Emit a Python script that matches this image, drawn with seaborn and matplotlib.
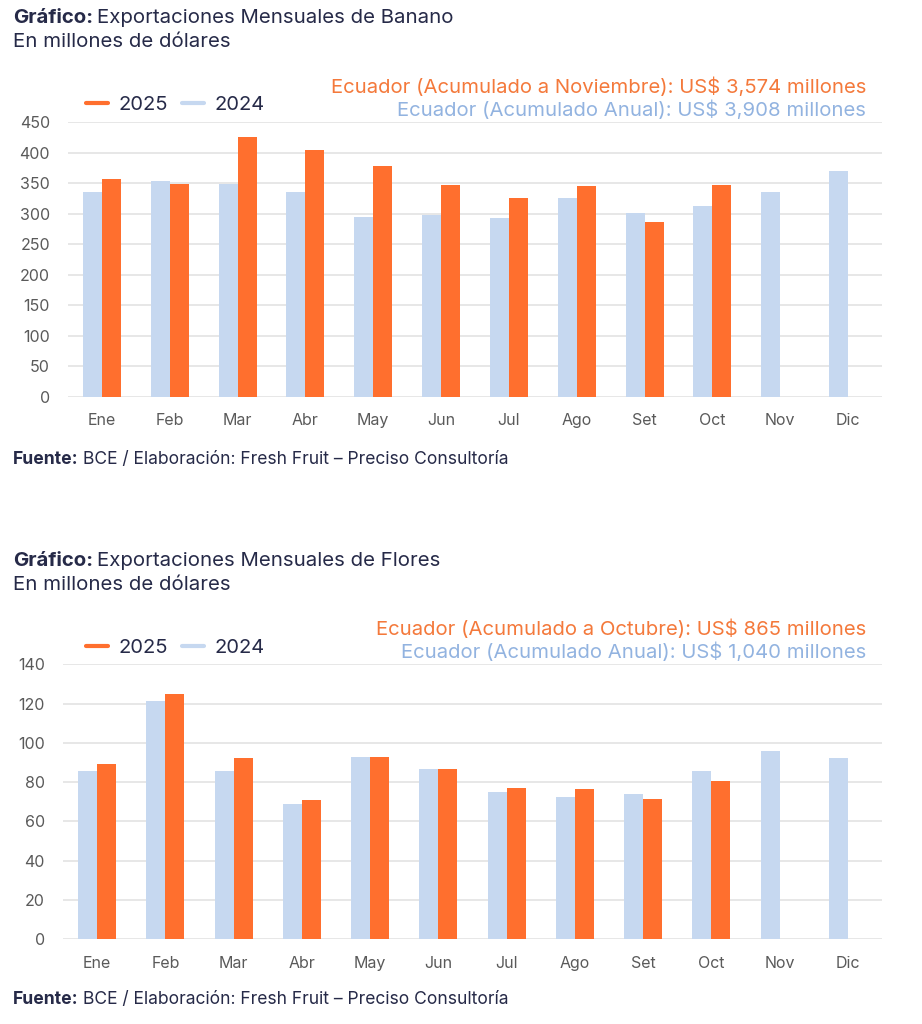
import matplotlib
matplotlib.use("Agg")
import matplotlib.pyplot as plt
from matplotlib.lines import Line2D
import seaborn as sns
import pandas as pd

meses = ["Ene", "Feb", "Mar", "Abr", "May", "Jun", "Jul", "Ago", "Set", "Oct", "Nov", "Dic"]

banano_2024 = [335.5, 353.5, 348, 335.5, 294.6, 297, 292, 325.7, 301, 311.6, 335, 369]
banano_2025 = [357, 348, 425.5, 404, 378, 346, 325.7, 345, 287, 347.6, None, None]

flores_2024 = [85.6, 121.5, 85.6, 68.8, 92.9, 86.8, 74.8, 72.2, 73.9, 85.6, 95.8, 92.3]
flores_2025 = [89, 125, 92.1, 70.7, 92.6, 86.6, 77.1, 76.5, 71.2, 80.4, None, None]

banano_ticks = [0, 50, 100, 150, 200, 250, 300, 350, 400, 450]
flores_ticks = [0, 20, 40, 60, 80, 100, 120, 140]

ORANGE = "#FF6F2E"
BLUE = "#C6D8F0"
NAVY = "#262A48"
GRAY = "#5A5A5A"
ANN_ORANGE = "#F4793B"
ANN_BLUE = "#92B3E0"

sns.set_theme(style="white")
FONT = ["Inter", "DejaVu Sans"]
plt.rcParams["font.family"] = FONT

W, H = 922, 1024
fig = plt.figure(figsize=(W / 100, H / 100), dpi=100)
fig.patch.set_facecolor("white")

TITLE_SIZE = 14.7
ANN_SIZE = 14.6
SRC_SIZE = 12.6


def fx(x):
    return x / W


def fy(y):
    return 1 - y / H


def long_df(v24, v25):
    rows = []
    for m, a, b in zip(meses, v24, v25):
        rows.append({"Mes": m, "Año": "2024", "Valor": a})
        rows.append({"Mes": m, "Año": "2025", "Valor": b})
    return pd.DataFrame(rows)


def rich_text(y, bold, rest, size):
    r = fig.canvas.get_renderer()
    t = fig.text(fx(13), fy(y), bold, fontsize=size, fontweight="bold",
                 color=NAVY, va="center", ha="left")
    bb = t.get_window_extent(renderer=r)
    fig.text(bb.x1 / W + fx(4), fy(y), rest, fontsize=size, color=NAVY,
             va="center", ha="left")


def panel(top, bottom, left, v24, v25, ticks, ymax, title, ann1, ann2,
          y_title, y_sub, y_ann1, y_ann2, y_leg, y_src):
    right = 882
    ax = fig.add_axes([fx(left), fy(bottom), fx(right - left), (bottom - top) / H])
    df = long_df(v24, v25)
    sns.barplot(data=df, x="Mes", y="Valor", hue="Año", hue_order=["2024", "2025"],
                palette={"2024": BLUE, "2025": ORANGE}, width=0.56, ax=ax,
                saturation=1, legend=False, errorbar=None, linewidth=0)
    ax.set_ylim(0, ymax)
    ax.set_xlim(-0.5, len(meses) - 0.5)
    ax.set_yticks(ticks)
    ax.set_yticklabels([str(t) for t in ticks])
    ax.set_xlabel("")
    ax.set_ylabel("")
    ax.yaxis.grid(True, color="#E3E3E3", linewidth=1.2)
    ax.set_axisbelow(True)
    for s in ["top", "right", "left", "bottom"]:
        ax.spines[s].set_visible(False)
    ax.tick_params(axis="both", length=0, labelsize=11.5, labelcolor=GRAY)
    ax.tick_params(axis="y", pad=13)
    ax.tick_params(axis="x", pad=12)

    rich_text(y_title, "Gráfico:", title, TITLE_SIZE)
    fig.text(fx(13), fy(y_sub), "En millones de dólares", fontsize=TITLE_SIZE,
             color=NAVY, va="center", ha="left")
    fig.text(fx(866), fy(y_ann1), ann1, fontsize=ANN_SIZE, color=ANN_ORANGE,
             ha="right", va="center")
    fig.text(fx(866), fy(y_ann2), ann2, fontsize=ANN_SIZE, color=ANN_BLUE,
             ha="right", va="center")

    handles = [Line2D([0], [0], color=ORANGE, lw=3),
               Line2D([0], [0], color=BLUE, lw=3)]
    fig.legend(handles, ["2025", "2024"], loc="center left",
               bbox_to_anchor=(fx(86), fy(y_leg + 1)), bbox_transform=fig.transFigure,
               ncol=2, frameon=False, fontsize=14.5, handlelength=1.1,
               handletextpad=0.5, columnspacing=0.7, borderpad=0,
               borderaxespad=0, labelcolor=NAVY)

    rich_text(y_src, "Fuente:", "BCE / Elaboración: Fresh Fruit – Preciso Consultoría",
              SRC_SIZE)
    return ax


panel(122, 396.7, 68, banano_2024, banano_2025, banano_ticks, 450,
      "Exportaciones Mensuales de Banano",
      "Ecuador (Acumulado a Noviembre): US$ 3,574 millones",
      "Ecuador (Acumulado Anual): US$ 3,908 millones",
      18, 42, 87, 110, 104, 459)

panel(664.3, 939, 63, flores_2024, flores_2025, flores_ticks, 140,
      "Exportaciones Mensuales de Flores",
      "Ecuador (Acumulado a Octubre): US$ 865 millones",
      "Ecuador (Acumulado Anual): US$ 1,040 millones",
      561, 585, 629, 652, 647, 1000)

fig.savefig("out.png", dpi=100, facecolor="white")
